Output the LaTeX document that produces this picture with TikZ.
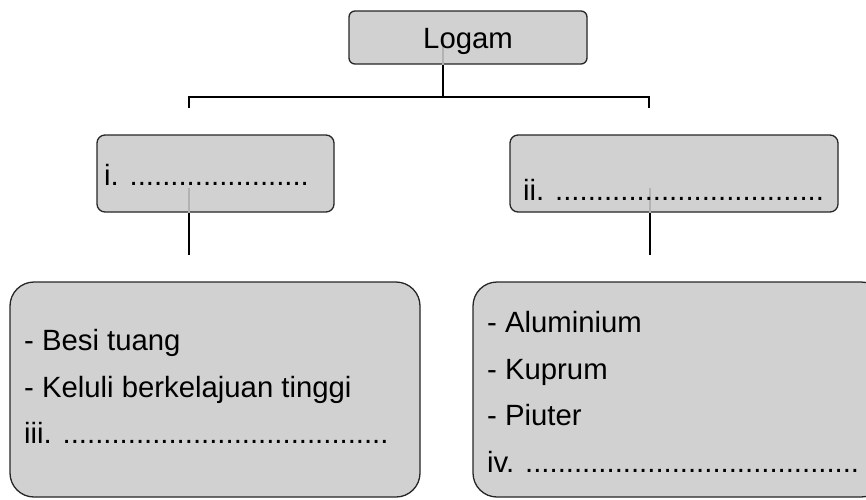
\documentclass[tikz,border=0pt]{standalone}
\usepackage{fontspec}
\setmainfont{Liberation Sans}
\begin{document}
\begin{tikzpicture}[x=1pt,y=-1pt,
  box/.style={draw=black!85,line width=1.3pt,fill=boxgray,rectangle,inner sep=0pt},
  lbl/.style={anchor=base west,inner sep=0pt,font=\fontsize{29.3}{34}\selectfont},
  conn/.style={line width=1.8pt,black},
  ghost/.style={line width=1.2pt,black!30}]
\definecolor{boxgray}{RGB}{209,209,209}
\useasboundingbox (0,0) rectangle (866,499);
% boxes
\node[box,rounded corners=6pt,minimum width=238pt,minimum height=53pt] (logam) at (468,37.5) {};
\node[box,rounded corners=8pt,minimum width=237pt,minimum height=77pt] (bi) at (215.5,173.5) {};
\node[box,rounded corners=8pt,minimum width=328pt,minimum height=77pt] (bii) at (674,173.5) {};
\node[box,rounded corners=24pt,minimum width=410pt,minimum height=215pt] (biii) at (215,389.5) {};
\node[box,rounded corners=24pt,minimum width=412pt,minimum height=215pt] (biv) at (679,389.5) {};
% faint lines inside boxes
\coordinate (lg) at (443,40);
\coordinate (ig) at (189,188);
\coordinate (iig) at (650,188);
\draw[ghost] (lg) -- (lg |- logam.south);
\draw[ghost] (ig) -- (ig |- bi.south);
\draw[ghost] (iig) -- (iig |- bii.south);
% texts
\node[lbl,anchor=base] (tl) at (468,48) {Logam};
\node[lbl] (ti) at (104,185) {i. ......................};
\node[lbl] (tii) at (523,200) {ii. .................................};
\node[lbl] (t1) at (24,350) {- Besi tuang};
\node[lbl] (t2) at (24,397) {- Keluli berkelajuan tinggi};
\node[lbl] (t3) at (24,443) {iii. ........................................};
\node[lbl] (t4) at (487,332) {- Aluminium};
\node[lbl] (t5) at (487,379) {- Kuprum};
\node[lbl] (t6) at (487,425) {- Piuter};
\node[lbl] (t7) at (487,472) {iv. .........................................};
% connectors
\coordinate (j) at (443,97);
\coordinate (jl) at (189,97);
\coordinate (jr) at (649,97);
\coordinate (el) at (189,108);
\coordinate (er) at (649,108);
\coordinate (dl) at (189,255);
\coordinate (dr) at (650,255);
\draw[conn] (lg |- logam.south) -- (j);
\draw[conn] (el) -- (jl) -- (jr) -- (er);
\draw[conn] (ig |- bi.south) -- (dl);
\draw[conn] (iig |- bii.south) -- (dr);
\end{tikzpicture}
\end{document}
